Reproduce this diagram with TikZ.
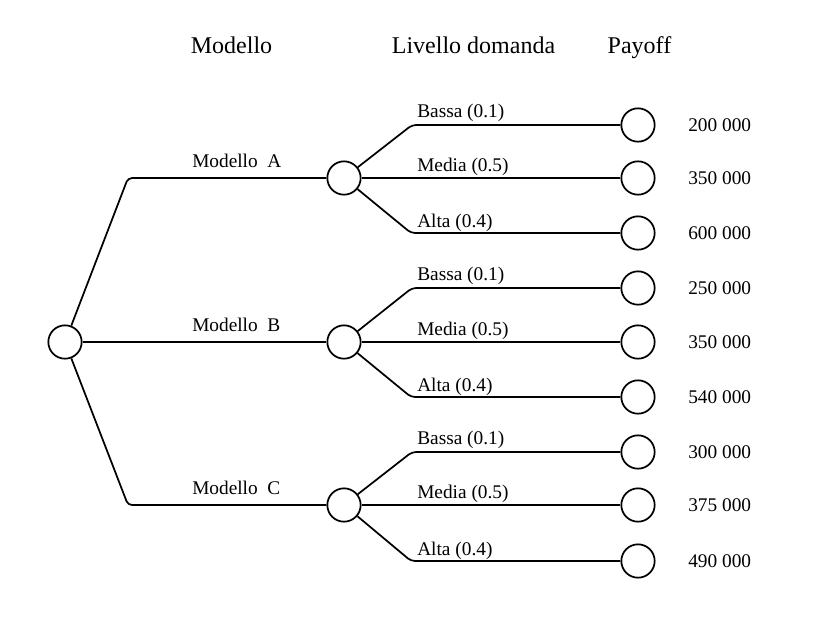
\documentclass[tikz,border=0pt]{standalone}
\usepackage{fontspec}
\setmainfont{Liberation Serif}
\begin{document}
\begin{tikzpicture}[x=0.75pt,y=-0.75pt,
  chance/.style={circle,draw,line width=1.3pt,minimum size=25pt,inner sep=0pt,fill=white},
  edge/.style={line width=1.3pt,rounded corners=3pt},
  lbl/.style={font=\fontsize{14.5}{16}\selectfont,inner sep=0pt,anchor=base west},
  pay/.style={font=\fontsize{14.5}{16}\selectfont,inner sep=0pt,anchor=west},
  head/.style={font=\fontsize{18}{20}\selectfont,inner sep=0pt,anchor=base}]
\useasboundingbox (0,0) rectangle (828,622);
% headers
\node[head] (h1) at (231.5,53) {Modello};
\node[head] (h2) at (473.5,53) {Livello domanda};
\node[head] (h3) at (639.5,53) {Payoff};
% root
\node[chance] (root) at (65,342) {};
\foreach \g/\y in {A/178,B/342,C/505}{
  \node[chance] (m\g) at (344,\y) {};
}
\coordinate (cA) at (128,178);
\coordinate (cC) at (128,505);
\draw[edge] (root) -- (cA) -- (mA);
\draw[edge] (root) -- (mB);
\draw[edge] (root) -- (cC) -- (mC);
\node[lbl] (tA) at (192,167) {Modello\ \ A};
\node[lbl] (tB) at (192,331) {Modello\ \ B};
\node[lbl] (tC) at (192,494) {Modello\ \ C};
% subtrees
\foreach \g/\y/\a/\b/\c/\pa/\pb/\pc in {A/178/125/178/233/200/350/600,B/342/288/342/397/250/350/540,C/505/452/505/561/300/375/490}{
  \node[chance] (l\g1) at (638,\a) {};
  \node[chance] (l\g2) at (638,\b) {};
  \node[chance] (l\g3) at (638,\c) {};
  \coordinate (k\g1) at (412,\a);
  \coordinate (k\g3) at (411,\c);
  \draw[edge] (m\g) -- (k\g1) -- (l\g1);
  \draw[edge] (m\g) -- (l\g2);
  \draw[edge] (m\g) -- (k\g3) -- (l\g3);
  \node[lbl] (b\g) at (417,\a-8) {Bassa (0.1)};
  \node[lbl] (d\g) at (417,\b-7) {Media (0.5)};
  \node[lbl] (a\g) at (417,\c-6) {Alta (0.4)};
  \node[pay] (p\g1) at (688,\a) {\pa\ 000};
  \node[pay] (p\g2) at (688,\b) {\pb\ 000};
  \node[pay] (p\g3) at (688,\c) {\pc\ 000};
}
\end{tikzpicture}
\end{document}
